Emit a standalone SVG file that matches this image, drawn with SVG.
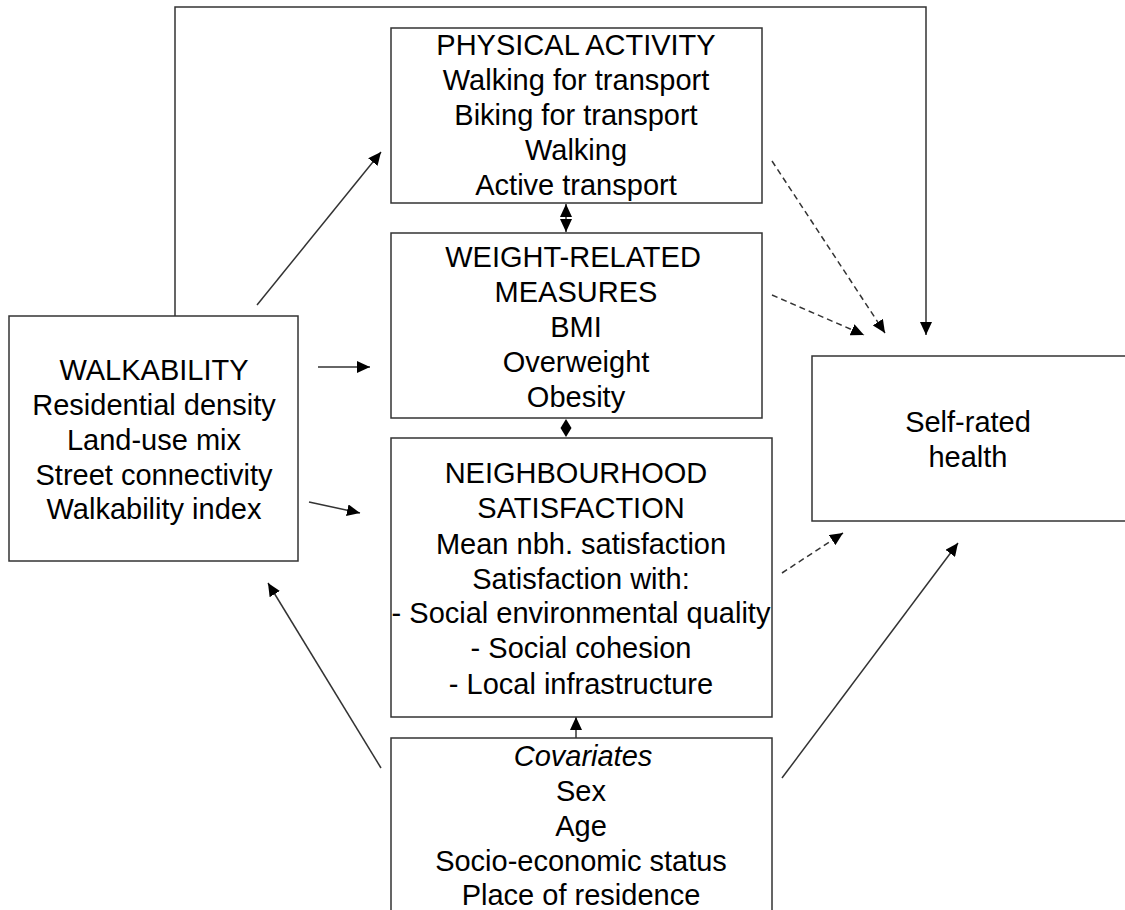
<svg xmlns="http://www.w3.org/2000/svg" width="1125" height="910" viewBox="0 0 1125 910">
  <defs>
    <style>
      .box { fill: #fff; stroke: #333; stroke-width: 1.5; }
      .lbl { font-family: "Liberation Sans", Arial, sans-serif; font-size: 29px; fill: #000; text-anchor: middle; }
      .it { font-style: italic; }
      .edge { fill: none; stroke: #333; stroke-width: 1.5; }
      .dash { stroke-dasharray: 6 4; }
    </style>
    <marker id="arr" markerUnits="userSpaceOnUse" markerWidth="14" markerHeight="12" refX="13" refY="6" orient="auto">
      <path d="M0,0 L13,6 L0,12 Z" fill="#000"/>
    </marker>
    <marker id="arrStart" markerUnits="userSpaceOnUse" markerWidth="14" markerHeight="12" refX="0" refY="6" orient="auto">
      <path d="M13,0 L0,6 L13,12 Z" fill="#000"/>
    </marker>
  </defs>
  <rect width="1125" height="910" fill="#fff"/>

  <g id="connectors">
    <!-- feedback line over the top into self-rated health -->
    <polyline class="edge" points="175,316 175,7 926,7 926,335" marker-end="url(#arr)"/>
    <line class="edge" x1="257" y1="305" x2="381" y2="152" marker-end="url(#arr)"/>
    <line class="edge" x1="318" y1="367" x2="370" y2="367" marker-end="url(#arr)"/>
    <line class="edge" x1="309" y1="502" x2="360" y2="513" marker-end="url(#arr)"/>
    <line class="edge" x1="381" y1="768" x2="268" y2="583" marker-end="url(#arr)"/>
    <line class="edge" x1="576" y1="738" x2="576" y2="717" marker-end="url(#arr)"/>
    <line class="edge" x1="782" y1="778" x2="958" y2="543" marker-end="url(#arr)"/>
    <line class="edge" x1="566" y1="204" x2="566" y2="232" marker-start="url(#arrStart)" marker-end="url(#arr)"/>
    <!-- two arrowheads meeting back to back in the short gap -->
    <path d="M566,419 L571.5,428 L566,437 L560.5,428 Z" fill="#000"/>
    <line class="edge dash" x1="772" y1="161" x2="885" y2="333" marker-end="url(#arr)"/>
    <line class="edge dash" x1="772" y1="295" x2="864" y2="335" marker-end="url(#arr)"/>
    <line class="edge dash" x1="782" y1="573" x2="843" y2="533" marker-end="url(#arr)"/>
  </g>

  <g id="physical-activity">
    <rect class="box" x="391" y="28" width="371" height="175"/>
    <text class="lbl" x="576" y="55">PHYSICAL ACTIVITY</text>
    <text class="lbl" x="576" y="90">Walking for transport</text>
    <text class="lbl" x="576" y="125">Biking for transport</text>
    <text class="lbl" x="576" y="160">Walking</text>
    <text class="lbl" x="576" y="195">Active transport</text>
  </g>

  <g id="weight-related">
    <rect class="box" x="391" y="233" width="371" height="185"/>
    <text class="lbl" x="573" y="267">WEIGHT-RELATED</text>
    <text class="lbl" x="576" y="302">MEASURES</text>
    <text class="lbl" x="576" y="337">BMI</text>
    <text class="lbl" x="576" y="372">Overweight</text>
    <text class="lbl" x="576" y="407">Obesity</text>
  </g>

  <g id="neighbourhood">
    <rect class="box" x="391" y="438" width="381" height="279"/>
    <text class="lbl" x="576" y="483">NEIGHBOURHOOD</text>
    <text class="lbl" x="581" y="518">SATISFACTION</text>
    <text class="lbl" x="581" y="554">Mean nbh. satisfaction</text>
    <text class="lbl" x="581" y="589">Satisfaction with:</text>
    <text class="lbl" x="581" y="623">- Social environmental quality</text>
    <text class="lbl" x="581" y="658">- Social cohesion</text>
    <text class="lbl" x="581" y="694">- Local infrastructure</text>
  </g>

  <g id="covariates">
    <rect class="box" x="391" y="738" width="381" height="180"/>
    <text class="lbl it" x="583" y="766">Covariates</text>
    <text class="lbl" x="581" y="801">Sex</text>
    <text class="lbl" x="581" y="836">Age</text>
    <text class="lbl" x="581" y="871">Socio-economic status</text>
    <text class="lbl" x="581" y="905">Place of residence</text>
  </g>

  <g id="walkability">
    <rect class="box" x="9" y="316" width="289" height="245"/>
    <text class="lbl" x="154" y="380">WALKABILITY</text>
    <text class="lbl" x="154" y="415">Residential density</text>
    <text class="lbl" x="154" y="450">Land-use mix</text>
    <text class="lbl" x="154" y="485">Street connectivity</text>
    <text class="lbl" x="154" y="519">Walkability index</text>
  </g>

  <g id="self-rated-health">
    <rect class="box" x="812" y="356" width="320" height="165"/>
    <text class="lbl" x="968" y="432">Self-rated</text>
    <text class="lbl" x="968" y="467">health</text>
  </g>
</svg>
